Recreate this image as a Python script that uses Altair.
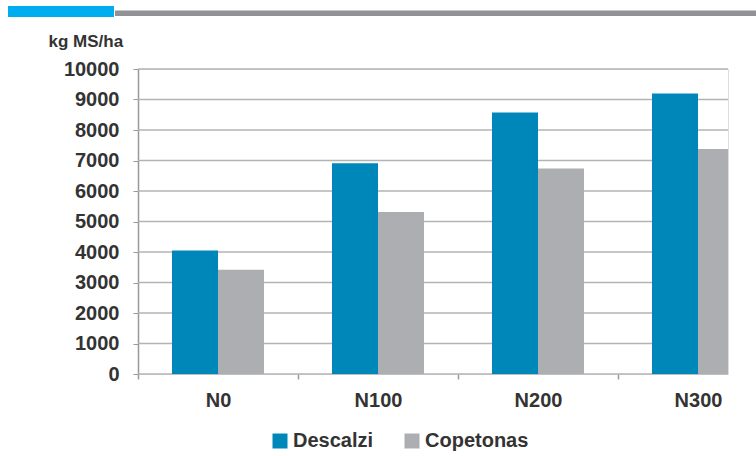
import altair as alt
import pandas as pd

categories = ["N0", "N100", "N200", "N300"]
series_names = ["Descalzi", "Copetonas"]
descalzi = [4050, 6910, 8570, 9200]
copetonas = [3420, 5310, 6740, 7380]
y_ticks = [0, 1000, 2000, 3000, 4000, 5000, 6000, 7000, 8000, 9000, 10000]

rows = []
for c, d, p in zip(categories, descalzi, copetonas):
    rows.append({"cat": c, "serie": "Descalzi", "val": d})
    rows.append({"cat": c, "serie": "Copetonas", "val": p})
df = pd.DataFrame(rows)
grid_df = pd.DataFrame({"v": y_ticks})

FONT = "Liberation Sans"
TXT = "#333333"
BLUE = "#0087b9"
GREY = "#adaeb1"
LINE = "#b3b3b3"

yscale = alt.Scale(domain=[0, 10000])
y_axis = alt.Axis(values=y_ticks, format="d", labelOverlap=False, grid=False,
                  tickSize=5, tickColor="#999999",
                  domainColor="#999999", domainWidth=1.5,
                  labelFont=FONT, labelFontSize=20, labelFontWeight="bold",
                  labelColor=TXT, labelPadding=14,
                  title="kg MS/ha", titleAngle=0, titleAlign="left",
                  titleBaseline="alphabetic", titleX=-90, titleY=-23,
                  titleFont=FONT, titleFontSize=17, titleFontWeight="bold",
                  titleColor=TXT)

grid = alt.Chart(grid_df).mark_rule(color=LINE, strokeWidth=1.5).encode(
    y=alt.Y("v:Q", scale=yscale, axis=y_axis),
    x=alt.value(0),
    x2=alt.value(590),
)

bars = alt.Chart(df).mark_bar(clip=True).encode(
    x=alt.X("cat:N", sort=categories,
            scale=alt.Scale(range=[0, 640], paddingInner=0.425, paddingOuter=0.2125),
            axis=alt.Axis(title=None, domain=False, grid=False, labelAngle=0,
                          tickSize=5, tickColor="#999999", tickWidth=1.5,
                          tickOffset=-80, labelOffset=80,
                          labelFont=FONT, labelFontSize=20, labelFontWeight="bold",
                          labelColor=TXT, labelPadding=11)),
    xOffset=alt.XOffset("serie:N", sort=series_names, scale=alt.Scale(paddingInner=0, paddingOuter=0)),
    y=alt.Y("val:Q", scale=yscale, axis=y_axis),
    color=alt.Color("serie:N", sort=series_names,
                    scale=alt.Scale(domain=series_names, range=[BLUE, GREY]),
                    legend=alt.Legend(title=None, orient="none", direction="horizontal",
                                      legendX=132, legendY=362,
                                      symbolType="square", symbolSize=225,
                                      symbolStrokeWidth=0, symbolOpacity=1,
                                      labelFont=FONT, labelFontSize=20,
                                      labelFontWeight="bold", labelColor=TXT,
                                      labelOffset=3, columnPadding=28)),
)

deco = alt.Data(values=[{"k": 1}])
top_blue = alt.Chart(deco).mark_rule(color="#00aeef", strokeWidth=11, strokeCap="butt").encode(
    x=alt.value(-130), x2=alt.value(-24), y=alt.value(-57.5)
)
top_grey = alt.Chart(deco).mark_rule(color="#919196", strokeWidth=5.5, strokeCap="butt").encode(
    x=alt.value(-23), x2=alt.value(618), y=alt.value(-55.7)
)

chart = alt.layer(grid, bars, top_blue, top_grey).resolve_scale(y="shared").properties(
    width=590, height=305,
    autosize=alt.AutoSizeParams(type="none"),
    padding={"left": 138, "top": 69, "right": 28, "bottom": 82},
).configure_view(stroke=None).configure(background="white")

chart.save("out.html", embed_options={"renderer": "svg", "actions": False})
